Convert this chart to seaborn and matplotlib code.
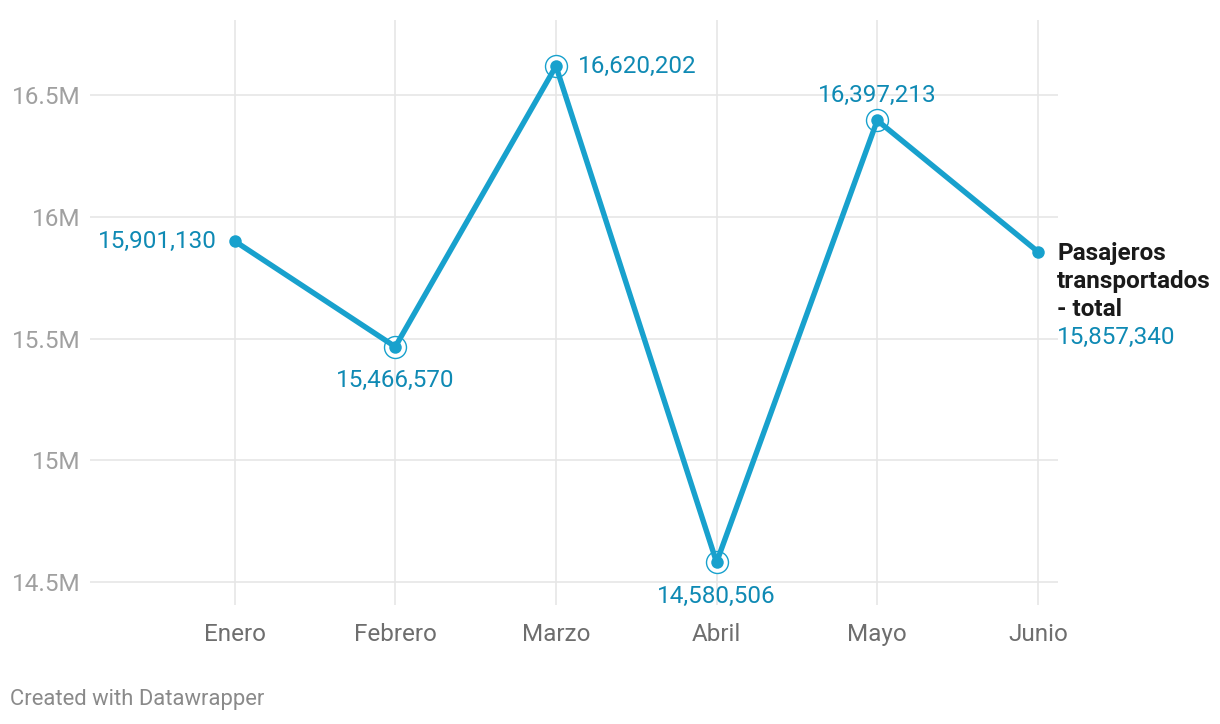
import pandas as pd
import seaborn as sns
import matplotlib.pyplot as plt

months = ["Enero", "Febrero", "Marzo", "Abril", "Mayo", "Junio"]
passengers = [15901130, 15466570, 16620202, 14580506, 16397213, 15857340]
highlighted = [False, True, True, True, True, False]
label_pos = ["left", "below", "right", "below", "above", "none"]
series_lines = ["Pasajeros", "transportados", "- total"]
y_ticks = [14.5e6, 15e6, 15.5e6, 16e6, 16.5e6]
y_tick_labels = ["14.5M", "15M", "15.5M", "16M", "16.5M"]

LINE = "#18a1cd"
LABEL = "#0f8ab4"
FS = 17.5


def main():
    df = pd.DataFrame({"month": months, "value": passengers})
    df["idx"] = range(len(df))

    sns.set_theme(style="white")
    plt.rcParams["font.family"] = ["Roboto", "DejaVu Sans"]

    fig = plt.figure(figsize=(12.2, 7.24), dpi=100)
    ax = fig.add_axes([0.0738, 0.1644, 0.7934, 0.808])

    sns.lineplot(data=df, x="idx", y="value", ax=ax, color=LINE,
                 linewidth=3.9, marker="o", markersize=9,
                 markeredgewidth=0, zorder=3)

    hl = df[highlighted]
    ax.scatter(hl["idx"], hl["value"], s=250, facecolors="white",
               edgecolors=LINE, linewidths=1.0, zorder=2)

    for i, (v, pos) in enumerate(zip(passengers, label_pos)):
        txt = f"{v:,}"
        kw = dict(color=LABEL, fontsize=FS, textcoords="offset points")
        if pos == "left":
            ax.annotate(txt, (i, v), xytext=(-13, 0), ha="right",
                        va="center", **kw)
        elif pos == "right":
            ax.annotate(txt, (i, v), xytext=(16, 0), ha="left",
                        va="center", **kw)
        elif pos == "below":
            ax.annotate(txt, (i, v), xytext=(0, -16), ha="center",
                        va="top", **kw)
        elif pos == "above":
            ax.annotate(txt, (i, v), xytext=(0, 10), ha="center",
                        va="bottom", **kw)

    # series label at the end of the line
    last = len(passengers) - 1
    step = 28 * 0.72
    for k, line in enumerate(series_lines):
        ax.annotate(line, (last, passengers[last]),
                    xytext=(14, -k * step - 1),
                    textcoords="offset points", ha="left", va="center",
                    fontsize=FS, fontweight="bold", color="#1a1a1a",
                    annotation_clip=False)
    ax.annotate(f"{passengers[last]:,}", (last, passengers[last]),
                xytext=(14, -3 * step - 1), textcoords="offset points",
                ha="left", va="center", fontsize=FS, color=LABEL,
                annotation_clip=False)

    ax.set_xlim(-0.9, 5.125)
    ax.set_ylim(14.405e6, 16.81e6)

    for i in range(len(months)):
        ax.axvline(i, color="#e6e6e6", linewidth=1.2, zorder=0)
    for t in y_ticks:
        ax.axhline(t, color="#e6e6e6", linewidth=1.2, zorder=0)

    ax.set_xticks(range(len(months)))
    ax.set_xticklabels(months)
    ax.set_yticks(y_ticks)
    ax.set_yticklabels(y_tick_labels)
    ax.tick_params(axis="x", length=0, pad=13, labelsize=FS,
                   labelcolor="#6e6e6e")
    ax.tick_params(axis="y", length=0, pad=7, labelsize=FS,
                   labelcolor="#a0a0a0")
    ax.set_xlabel("")
    ax.set_ylabel("")
    sns.despine(ax=ax, left=True, bottom=True)

    fig.text(10 / 1220, 1 - 700 / 724, "Created with Datawrapper",
             fontsize=15.8, color="#8a8a8a", ha="left", va="center")

    fig.savefig("out.png", dpi=100)


if __name__ == "__main__":
    main()
